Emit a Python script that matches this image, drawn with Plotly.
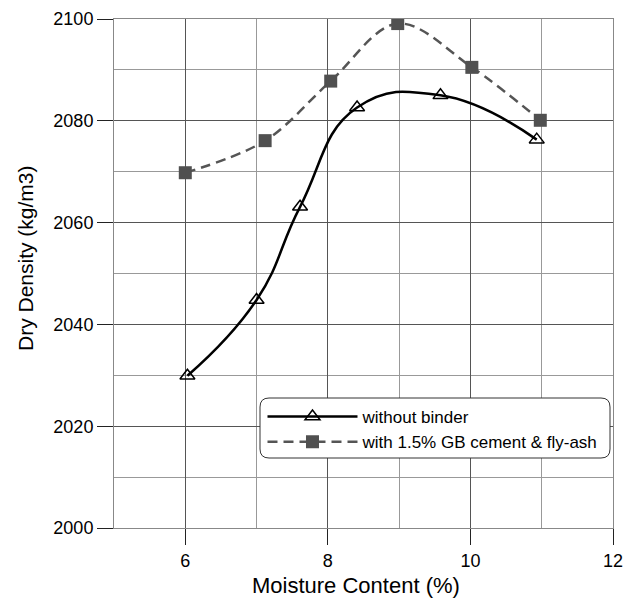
import plotly.graph_objects as go

moisture_no_binder = [6.03, 7.0, 7.61, 8.41, 9.58, 10.93]
density_no_binder = [2029.9, 2044.8, 2063.1, 2082.6, 2085.0, 2076.3]

moisture_binder = [6.0, 7.12, 8.04, 8.98, 10.02, 10.98]
density_binder = [2069.8, 2076.1, 2087.8, 2099.1, 2090.5, 2080.1]

x_label = "Moisture Content (%)"
y_label = "Dry Density (kg/m3)"
name_a = "without binder"
name_b = "with 1.5% GB cement & fly-ash"

W, H = 627, 599
ML, MR, MT, MB = 114, 14, 19, 71
PW, PH = W - ML - MR, H - MT - MB

fig = go.Figure()
fig.add_trace(go.Scatter(
    x=moisture_no_binder, y=density_no_binder, name=name_a,
    mode="lines+markers",
    line=dict(color="black", width=2.5, shape="spline", smoothing=1.3),
    marker=dict(symbol="triangle-up-open", size=13, color="black", line=dict(width=1.5)),
))
fig.add_trace(go.Scatter(
    x=moisture_binder, y=density_binder, name=name_b,
    mode="lines+markers",
    line=dict(color="#555555", width=2.5, dash="10px,6px", shape="spline", smoothing=1.0),
    marker=dict(symbol="square", size=13, color="#505050"),
))

# rounded legend frame (paper coordinates)
lx0, lx1 = (260 - ML) / PW, (610 - ML) / PW
ly1, ly0 = (528 - 398) / PH, (528 - 458) / PH
rx, ry = 9 / PW, 9 / PH
path = (f"M {lx0+rx},{ly1} L {lx1-rx},{ly1} Q {lx1},{ly1} {lx1},{ly1-ry} "
        f"L {lx1},{ly0+ry} Q {lx1},{ly0} {lx1-rx},{ly0} L {lx0+rx},{ly0} "
        f"Q {lx0},{ly0} {lx0},{ly0+ry} L {lx0},{ly1-ry} Q {lx0},{ly1} {lx0+rx},{ly1} Z")
fig.add_shape(type="path", path=path, xref="paper", yref="paper",
              line=dict(color="#333333", width=1), fillcolor="white", layer="above")

# axis titles
fig.add_annotation(text=x_label, xref="paper", yref="paper",
                   x=(356 - ML) / PW, y=(528 - 585) / PH, xanchor="center", yanchor="middle",
                   showarrow=False, font=dict(size=22))
fig.add_annotation(text=y_label, xref="paper", yref="paper", textangle=-90,
                   x=(25 - ML) / PW, y=(528 - 258) / PH, xanchor="center", yanchor="middle",
                   showarrow=False, font=dict(size=21))

font = "Liberation Sans, Arial, sans-serif"
fig.update_layout(
    width=W, height=H,
    margin=dict(l=ML, r=MR, t=MT, b=MB),
    plot_bgcolor="white", paper_bgcolor="white",
    font=dict(family=font, size=18, color="black"),
    showlegend=True,
    legend=dict(
        x=lx0 + 0.005, y=ly1 - 0.002, xanchor="left", yanchor="top",
        bgcolor="rgba(0,0,0,0)", borderwidth=0,
        font=dict(size=17), itemwidth=90, tracegroupgap=0,
    ),
    xaxis=dict(
        range=[5, 12], tick0=0, dtick=2, automargin=False,
        ticks="outside", ticklen=16, tickcolor="#222", tickwidth=1,
        showgrid=True, gridcolor="#555555", gridwidth=1,
        minor=dict(dtick=1, tick0=0, showgrid=True, gridcolor="#999999", gridwidth=1, ticks=""),
        showline=True, linecolor="#888888", linewidth=1, mirror=True,
        zeroline=False,
        tickfont=dict(size=18),
    ),
    yaxis=dict(
        range=[2000, 2100], tick0=2000, dtick=20, automargin=False,
        ticks="outside", ticklen=16, tickcolor="#222", tickwidth=1,
        showgrid=True, gridcolor="#555555", gridwidth=1,
        minor=dict(dtick=10, showgrid=True, gridcolor="#999999", gridwidth=1, ticks=""),
        showline=True, linecolor="#888888", linewidth=1, mirror=True,
        zeroline=False,
        tickfont=dict(size=18),
    ),
)

fig.write_html("out.html", config={"displayModeBar": False},
               post_script="document.body.style.margin='0';document.body.style.overflow='hidden';")
